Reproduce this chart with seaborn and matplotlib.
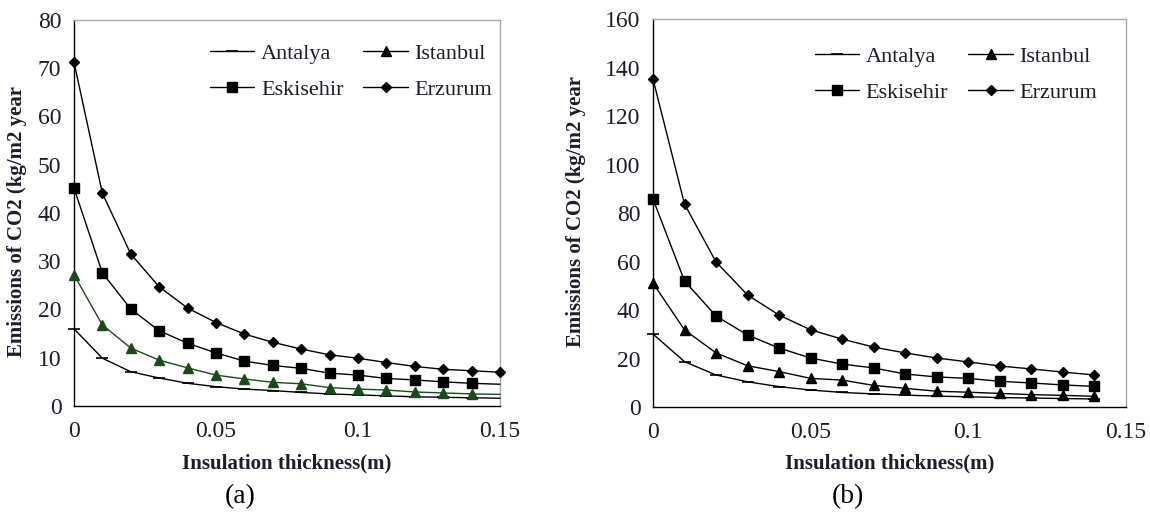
"""
plot.py — CO2 emissions vs insulation thickness for four Turkish cities
(two panels: (a) and (b)), redrawn with seaborn.
"""

import numpy as np
import pandas as pd
import matplotlib
matplotlib.use("Agg")
import matplotlib.pyplot as plt
from matplotlib.lines import Line2D
import seaborn as sns

# ── Data ──────────────────────────────────────────────────────────────────

CITIES = ["Antalya", "Istanbul", "Eskisehir", "Erzurum"]

# Panel (a): thickness 0 .. 0.15 m
thickness_a = [0.00, 0.01, 0.02, 0.03, 0.04, 0.05, 0.06, 0.07,
               0.08, 0.09, 0.10, 0.11, 0.12, 0.13, 0.14, 0.15]
antalya_a = [16.0, 9.9, 7.1, 5.8, 4.7, 4.0, 3.5, 3.2,
             2.8, 2.5, 2.3, 2.1, 1.9, 1.8, 1.7, 1.6]
istanbul_a = [27.2, 16.8, 12.0, 9.5, 7.9, 6.4, 5.6, 4.9,
              4.6, 3.8, 3.5, 3.3, 2.9, 2.7, 2.5, 2.4]
eskisehir_a = [45.2, 27.6, 20.1, 15.6, 13.0, 11.0, 9.3, 8.4,
               7.8, 6.8, 6.4, 5.7, 5.4, 5.0, 4.7, 4.5]
erzurum_a = [71.3, 44.1, 31.5, 24.7, 20.3, 17.3, 14.9, 13.2,
             11.8, 10.6, 9.9, 9.0, 8.2, 7.6, 7.3, 7.0]

# Panel (b): thickness 0 .. 0.14 m
thickness_b = [0.00, 0.01, 0.02, 0.03, 0.04, 0.05, 0.06, 0.07,
               0.08, 0.09, 0.10, 0.11, 0.12, 0.13, 0.14]
antalya_b = [30.1, 18.7, 13.2, 10.4, 8.4, 7.0, 6.0, 5.4,
             4.9, 4.5, 4.2, 3.9, 3.7, 3.5, 3.3]
istanbul_b = [51.1, 31.8, 22.3, 17.0, 14.6, 11.8, 11.1, 8.9,
              7.7, 6.5, 6.1, 5.6, 5.1, 4.8, 4.4]
eskisehir_b = [85.8, 52.0, 37.5, 29.7, 24.3, 20.2, 17.7, 16.1,
               13.6, 12.4, 11.8, 10.6, 9.9, 9.1, 8.5]
erzurum_b = [135.3, 83.7, 59.8, 46.2, 37.9, 31.8, 28.0, 24.7,
             22.3, 20.2, 18.6, 16.9, 15.7, 14.4, 13.2]

# ── Styling ───────────────────────────────────────────────────────────────

MARKERS = {"Antalya": "_", "Istanbul": "^", "Eskisehir": "s", "Erzurum": "D"}
MSIZE = {"Antalya": 8, "Istanbul": 7.5, "Eskisehir": 7, "Erzurum": 5.5}
GREEN = "#1a4a1a"
TEXT = "#1c1c2a"

sns.set_theme(style="white")
plt.rcParams["font.family"] = ["Liberation Serif", "DejaVu Serif"]


def long_frame(x, series):
    rows = []
    for city, vals in zip(CITIES, series):
        for xi, yi in zip(x, vals):
            rows.append({"thickness": xi, "emission": yi, "city": city})
    return pd.DataFrame(rows)


def style_axes(ax, ymax, ystep, yl_x, yl_y, xl_y):
    ax.set_xlim(0, 0.15)
    ax.set_ylim(0, ymax)
    ax.set_xticks([0, 0.05, 0.1, 0.15])
    ax.set_xticklabels(["0", "0.05", "0.1", "0.15"])
    ax.set_yticks(np.arange(0, ymax + 1, ystep))
    ax.tick_params(axis="both", labelsize=17, labelcolor=TEXT, colors="black",
                   direction="out", length=6, width=1)
    ax.tick_params(axis="x", pad=5)
    ax.tick_params(axis="y", pad=3)
    for side in ["top", "right"]:
        ax.spines[side].set_color("#a8a8a8")
        ax.spines[side].set_linewidth(1)
    for side in ["left", "bottom"]:
        ax.spines[side].set_color("black")
        ax.spines[side].set_linewidth(1)
    ax.set_xlabel("Insulation thickness(m)", fontsize=15, fontweight="bold", color=TEXT)
    ax.set_ylabel("Emissions of CO2 (kg/m2 year", fontsize=15, fontweight="bold", color=TEXT)
    ax.xaxis.set_label_coords(0.5, xl_y)
    ax.yaxis.set_label_coords(yl_x, yl_y)


def legend(ax, anchor):
    # column-major fill: row 1 = Antalya, Istanbul; row 2 = Eskisehir, Erzurum
    order = ["Antalya", "Eskisehir", "Istanbul", "Erzurum"]
    handles = [
        Line2D([], [], color="black", lw=1, marker=MARKERS[c],
               markersize=MSIZE[c], markeredgewidth=1.2 if c == "Antalya" else 1)
        for c in order
    ]
    ax.legend(handles, order, ncol=2, loc="upper left", bbox_to_anchor=anchor,
              frameon=False, fontsize=16, handlelength=2.0, handletextpad=0.3,
              columnspacing=0.9, labelspacing=0.7, borderpad=0, borderaxespad=0,
              labelcolor=TEXT)


fig = plt.figure(figsize=(11.5, 5.15), dpi=100)
ax_a = fig.add_axes([0.0643, 0.2117, 0.3705, 0.7495])
ax_b = fig.add_axes([0.5678, 0.2097, 0.4113, 0.7534])

# ── Panel (a) ─────────────────────────────────────────────────────────────
df_a = long_frame(thickness_a, [antalya_a, istanbul_a, eskisehir_a, erzurum_a])
colours_a = {"Antalya": "black", "Istanbul": GREEN, "Eskisehir": "black", "Erzurum": "black"}
for city in CITIES:
    sub = df_a[df_a["city"] == city]
    # only Erzurum carries a marker at 0.15 m
    mevery = None if city == "Erzurum" else slice(0, len(sub) - 1)
    sns.lineplot(data=sub, x="thickness", y="emission", ax=ax_a,
                 color=colours_a[city], lw=1, marker=MARKERS[city],
                 markersize=MSIZE[city], markeredgecolor=colours_a[city],
                 markeredgewidth=1.2 if city == "Antalya" else 1,
                 markevery=mevery, clip_on=False, zorder=3)
style_axes(ax_a, 80, 10, -0.110, 0.477, -0.122)
legend(ax_a, (0.319, 0.94))

# ── Panel (b) ─────────────────────────────────────────────────────────────
df_b = long_frame(thickness_b, [antalya_b, istanbul_b, eskisehir_b, erzurum_b])
for city in CITIES:
    sub = df_b[df_b["city"] == city]
    sns.lineplot(data=sub, x="thickness", y="emission", ax=ax_b,
                 color="black", lw=1, marker=MARKERS[city],
                 markersize=MSIZE[city], markeredgecolor="black",
                 markeredgewidth=1.2 if city == "Antalya" else 1,
                 clip_on=False, zorder=3)
style_axes(ax_b, 160, 20, -0.142, 0.503, -0.119)
legend(ax_b, (0.342, 0.93))

# ── Panel captions ────────────────────────────────────────────────────────
fig.text(240 / 1150, 1 - 497 / 515, "(a)", fontsize=20, ha="center", va="center", color="black")
fig.text(848 / 1150, 1 - 497 / 515, "(b)", fontsize=20, ha="center", va="center", color="black")

fig.savefig("out.png", dpi=100, facecolor="white")
plt.close(fig)
